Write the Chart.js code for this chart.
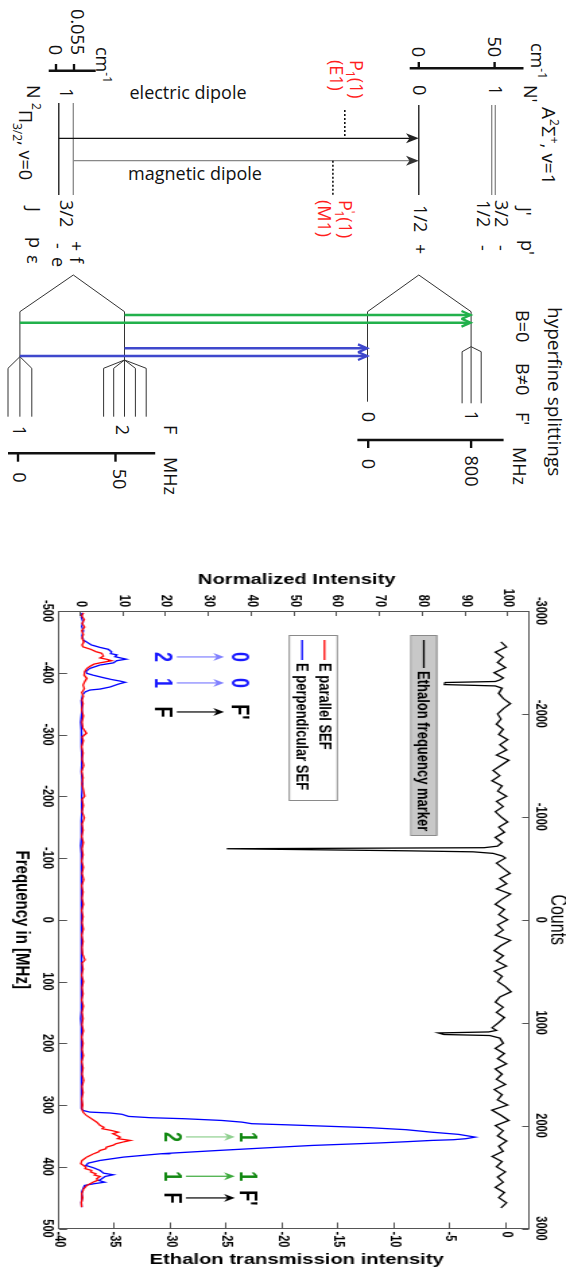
<!DOCTYPE html>
<html lang="en">
<head>
<meta charset="UTF-8">
<meta name="viewport" content="width=566, initial-scale=1.0">
<title>SEF hyperfine spectrum</title>
<script src="https://cdn.jsdelivr.net/npm/chart.js"></script>
<style>
  html, body { margin: 0; padding: 0; background: #fff; overflow: hidden; }
  /* the whole figure is laid out landscape and turned a quarter clockwise */
  #page { position: absolute; left: 0; top: 0; width: 1272px; height: 566px;
          transform-origin: 0 0; transform: translate(566px, 0) rotate(90deg); }
  #diagram { position: absolute; left: 0; top: 0; }
  /* the spectrum panel was stretched across its height in the original figure */
  #chartBox { position: absolute; left: 540px; top: 0; width: 732px; height: 420px;
              transform-origin: 0 0; transform: scale(1, 1.3476); }
</style>
</head>
<body>
<div id="page">
  <svg id="diagram" width="540" height="566" viewBox="0 0 540 566">
    <g font-family="'Open Sans', sans-serif" font-size="18" fill="#111">
      <!-- upper state -->
      <text x="107" y="24.5" font-size="19">A<tspan font-size="12" dy="-8">2</tspan><tspan dy="8">Σ</tspan><tspan font-size="12" dy="-8">+</tspan><tspan dy="8">, v=1</tspan></text>
      <text x="43" y="35">cm<tspan font-size="12" dy="-7">-1</tspan></text>
      <text x="85" y="42.5">N'</text>
      <text x="57" y="77.8" text-anchor="end">50</text>
      <text x="57" y="153.6" text-anchor="end">0</text>
      <text x="85" y="77">1</text>
      <text x="85" y="152.7">0</text>
      <text x="207" y="48">J'</text>
      <text x="240" y="45.5">p'</text>
      <text x="200" y="70.6">3/2</text><text x="245" y="70.6">-</text>
      <text x="200" y="88.6">1/2</text><text x="245" y="88.6">-</text>
      <text x="205" y="152.5">1/2</text><text x="244" y="152.5">+</text>

      <!-- lower state -->
      <text x="55" y="494.8" text-anchor="end">0.055</text>
      <text x="55" y="517" text-anchor="end">0</text>
      <text x="47" y="470.3">cm<tspan font-size="12" dy="-7">-1</tspan></text>
      <text x="85" y="539">N</text>
      <text x="88" y="506.4">1</text>
      <text x="103" y="547"><tspan font-size="12" dy="-13">2</tspan><tspan dy="13">Π</tspan><tspan font-size="12" dy="6">3/2</tspan><tspan dy="-6">, v=0</tspan></text>
      <text x="200" y="506.4">3/2</text>
      <text x="241" y="495.6">+</text><text x="257" y="495.6">f</text>
      <text x="243" y="513.7">-</text><text x="257" y="513.7">e</text>
      <text x="207" y="539">J</text>
      <text x="237" y="537">p</text><text x="255" y="539">ε</text>

      <!-- transitions -->
      <text transform="translate(99,378) rotate(-90)" text-anchor="middle">electric dipole</text>
      <text transform="translate(180,371) rotate(-90)" text-anchor="middle">magnetic dipole</text>
      <text x="60" y="216" fill="#ff1f1f">P<tspan font-size="12" dy="4">1</tspan><tspan dy="-4">(1)</tspan></text>
      <text x="60" y="236" fill="#ff1f1f">(E1)</text>
      <text x="200" y="227" fill="#ff1f1f">P<tspan font-size="12" dy="-7">'</tspan><tspan font-size="12" dx="-3" dy="11">1</tspan><tspan dy="-4">(1)</tspan></text>
      <text x="200" y="248" fill="#ff1f1f">(M1)</text>

      <!-- hyperfine part -->
      <text x="307" y="18.5" font-size="19">hyperfine splittings</text>
      <text x="310" y="50">B=0</text>
      <text x="363" y="50">B≠0</text>
      <text x="412" y="50">F'</text>
      <text x="417" y="204.2" text-anchor="middle">0</text>
      <text x="416" y="101.3" text-anchor="middle">1</text>
      <text x="464" y="204.2" text-anchor="middle">0</text>
      <text x="471" y="101.3" text-anchor="middle">800</text>
      <text x="447" y="53">MHz</text>
      <text x="425" y="401.7">F</text>
      <text x="457" y="401.7">MHz</text>
      <text x="431" y="553.4" text-anchor="middle">1</text>
      <text x="430" y="449.6" text-anchor="middle">2</text>
      <text x="477.5" y="553.4" text-anchor="middle">0</text>
      <text x="479" y="453.5" text-anchor="middle">50</text>
    </g>

    <!-- scale bars -->
    <g stroke="#111" stroke-width="2.4" fill="none">
      <line x1="68.3" y1="42.5" x2="68.3" y2="156.3"/>
      <line x1="62" y1="71.4" x2="68.3" y2="71.4"/>
      <line x1="62" y1="147.2" x2="68.3" y2="147.2"/>
      <line x1="70.7" y1="470.3" x2="70.7" y2="517.3"/>
      <line x1="64" y1="492" x2="70.7" y2="492"/>
      <line x1="64" y1="510" x2="70.7" y2="510"/>
      <line x1="440" y1="62.4" x2="440" y2="208.6"/>
      <line x1="440" y1="197.8" x2="448" y2="197.8"/>
      <line x1="440" y1="94.9" x2="448" y2="94.9"/>
      <line x1="453.3" y1="410.8" x2="453.3" y2="558"/>
      <line x1="453.3" y1="548" x2="461.7" y2="548"/>
      <line x1="453.3" y1="450.5" x2="461.7" y2="450.5"/>
    </g>

    <!-- rotational levels -->
    <g stroke-width="1.3">
      <line x1="105" y1="147.2" x2="195" y2="147.2" stroke="#111"/>
      <line x1="105" y1="74.3" x2="195" y2="74.3" stroke="#888"/>
      <line x1="105" y1="70.7" x2="195" y2="70.7" stroke="#888"/>
      <line x1="103" y1="507.2" x2="195" y2="507.2" stroke="#111"/>
      <line x1="103" y1="492.7" x2="195" y2="492.7" stroke="#888"/>
    </g>

    <!-- dipole arrows -->
    <line x1="138.3" y1="507.2" x2="138.3" y2="156" stroke="#111" stroke-width="1.2"/>
    <path d="M138.3,147.2 L133.3,160 L138.3,156.5 L143.3,160 Z" fill="#222"/>
    <line x1="160.7" y1="492.7" x2="160.7" y2="156" stroke="#888" stroke-width="1.2"/>
    <path d="M160.7,147.2 L155.7,160 L160.7,156.5 L165.7,160 Z" fill="#333"/>
    <g stroke="#111" stroke-width="1.6" stroke-dasharray="2,2">
      <line x1="110" y1="221.2" x2="138.3" y2="221.2"/>
      <line x1="160.7" y1="233.1" x2="195" y2="233.1"/>
    </g>

    <!-- hyperfine levels -->
    <g stroke="#333" stroke-width="1" fill="none">
      <polyline points="311.7,546.1 275,492.7 311.7,441.5"/>
      <line x1="311.7" y1="546.1" x2="416.7" y2="546.1"/>
      <polyline points="416.7,558 368.3,558 356.7,546.1 368.3,534.2 416.7,534.2"/>
      <line x1="311.7" y1="441.5" x2="416.7" y2="441.5"/>
      <polyline points="416.7,462.4 368.3,462.4 360,441.5 368.3,419.8 416.7,419.8"/>
      <polyline points="416.7,452.3 368.3,452.3 360,441.5 368.3,430.6 416.7,430.6"/>
      <polyline points="311.7,198.5 275,147.2 311.7,94.9"/>
      <line x1="311.7" y1="198.5" x2="401.7" y2="198.5"/>
      <line x1="311.7" y1="94.9" x2="403.3" y2="94.9"/>
      <polyline points="403.3,103.9 351.7,103.9 346.7,94.9 351.7,84.8 403.3,84.8"/>
    </g>
    <g stroke="#22b14c" stroke-width="2.4" fill="none">
      <line x1="315" y1="441.5" x2="315" y2="96"/>
      <polyline points="311,104.5 315,95.5 319,104.5"/>
      <line x1="322.7" y1="546.1" x2="322.7" y2="96"/>
      <polyline points="318.7,104.5 322.7,95.5 326.7,104.5"/>
    </g>
    <g stroke="#3f48cc" stroke-width="2.4" fill="none">
      <line x1="348.3" y1="441.5" x2="348.3" y2="199.5"/>
      <polyline points="344.3,208 348.3,199 352.3,208"/>
      <line x1="356" y1="546.1" x2="356" y2="199.5"/>
      <polyline points="352,208 356,199 360,208"/>
    </g>
  </svg>
  <div id="chartBox"><canvas id="spectrum" width="732" height="420"></canvas></div>
</div>
<script>
  // tick labels
  const freqTicks = [-500, -400, -300, -200, -100, 0, 100, 200, 300, 400, 500];
  const countTicks = [-3000, -2000, -1000, 0, 1000, 2000, 3000];
  const intensityTicks = [0, 10, 20, 30, 40, 50, 60, 70, 80, 90, 100];
  const etalonTicks = [-40, -35, -30, -25, -20, -15, -10, -5, 0];

  const seriesNames = ['E parallel SEF', 'E perpendicular SEF', 'Ethalon frequency marker'];

  // E parallel SEF (MHz, normalized intensity)
  const parFreq = [
    -497, -492, -486, -480, -474, -468, -462, -456, -450, -445,
    -442, -438, -434, -431.5, -427, -424, -421.7, -419.5, -416, -414,
    -411, -407, -402, -396, -391, -385.5, -380, -374, -368, -362,
    -356, -350, -340, -330, -320, -310, -302, -296, -290, -280,
    -270, -260, -250, -240, -230, -220, -210, -200, -195, -185,
    -175, -165, -155, -145, -135, -125, -115, -105, -95, -85,
    -75, -65, -55, -45, -35, -25, -15, -5, 5, 15,
    25, 35, 45, 55, 65, 70, 80, 90, 100, 110,
    120, 130, 140, 150, 160, 170, 180, 190, 200, 210,
    220, 230, 240, 250, 260, 270, 280, 290, 300, 306,
    311.5, 316.9, 322.2, 327.7, 333, 336, 338.4, 341, 344, 346.5,
    349, 352, 354.5, 357.4, 360.1, 362.7, 365, 368.2, 371, 373.6,
    376, 379, 384.4, 389.8, 395.1, 400.5, 403, 406, 408.5, 411.3,
    413.5, 415.7, 419.4, 422, 425, 430.3, 435.7, 443.8, 450, 458,
    465.5
  ];
  const parSignal = [
    0.6, 0.2, 0.8, 0.3, 0.9, 0.2, 0.6, 0.3, 0.7, 0.3,
    0.5, 2.3, 3.6, 4.9, 5.3, 4.5, 6.1, 7.2, 4.5, 3.1,
    2.3, 1.4, 0.9, 0.8, 1.4, 0.9, 0.5, 0.8, 0.2, 0.6,
    0.3, 0.5, 0.2, 0.6, 0.3, 0.5, 1.3, 0.3, 0.6, 0.2,
    0.5, 0.3, 0.7, 0.2, 0.5, 0.3, 0.6, 0.9, 0.3, 0.6,
    0.3, 0.8, 0.3, 0.5, 0.2, 0.6, 0.3, 0.5, 0.2, 0.6,
    0.3, 0.7, 0.2, 0.5, 0.3, 0.6, 0.2, 0.5, 0.3, 0.6,
    0.2, 0.5, 0.3, 0.4, 1.0, 0.3, 0.5, 0.2, 0.6, 0.3,
    0.5, 0.2, 0.6, 0.3, 0.5, 0.3, 0.6, 0.2, 0.5, 0.3,
    0.6, 0.2, 0.5, 0.3, 0.7, 0.3, 0.5, 0.2, 0.4, 0.3,
    0.5, 1.3, 2.5, 3.7, 4.5, 5.4, 5.0, 7.0, 8.8, 7.5,
    8.3, 9.2, 8.6, 11.6, 9.8, 8.2, 7.6, 6.0, 5.8, 4.5,
    4.1, 3.0, 1.4, 0.3, 0.0, 1.2, 1.0, 2.5, 2.3, 3.5,
    3.2, 4.5, 3.7, 3.9, 2.9, 1.4, 0.7, 0.2, 0.4, 0.1,
    0.2
  ];

  // E perpendicular SEF
  const perpFreq = [
    -497, -490, -482, -475, -468, -460, -453, -450, -445, -441,
    -438, -434, -431, -429, -426, -422, -419.5, -416, -412.5, -407,
    -402, -399, -396, -392, -389, -386.5, -384.5, -381.7, -377, -373.6,
    -372, -369, -364, -355, -340, -320, -300, -280, -260, -240,
    -220, -200, -180, -160, -140, -120, -100, -80, -60, -40,
    -20, 0, 20, 40, 60, 80, 100, 120, 140, 160,
    180, 200, 220, 240, 260, 280, 300, 305.5, 308.8, 311.5,
    313, 315, 318.5, 320.6, 322.2, 325, 327.7, 330.3, 332, 334.7,
    336.8, 340, 344, 347.6, 352, 354.6, 356.2, 357.4, 359.5, 361.4,
    365.5, 369.8, 373.6, 378, 379, 384.4, 389.8, 394.2, 397.9, 401.6,
    406, 410.4, 413, 415.7, 419.4, 422.2, 425, 428, 430.3, 435.7,
    441, 450, 458, 465.5
  ];
  const perpSignal = [
    0.3, 0.1, 0.5, 0.2, 0.6, 0.3, 0.6, 1.3, 2.5, 4.5,
    6.4, 7.2, 7.0, 8.4, 8.0, 10.6, 8.4, 7.6, 4.5, 2.1,
    1.2, 1.4, 2.9, 5.3, 7.2, 9.2, 10.4, 8.8, 6.9, 4.5,
    2.1, 1.0, 0.4, 0.1, 0.3, 0.0, 0.2, 0.1, 0.3, 0.1,
    0.4, 0.2, 0.3, 0.1, 0.2, 0.0, 0.2, 0.1, 0.2, 0.1,
    0.2, 0.1, 0.2, 0.1, 0.2, 0.1, 0.2, 0.1, 0.2, 0.0,
    0.2, 0.1, 0.2, 0.1, 0.2, 0.1, 0.2, 0.15, 0.5, 2.1,
    6.9, 9.6, 11.2, 16.3, 24.1, 32.9, 37.6, 40.0, 47.8, 58.9,
    67.6, 76.1, 82.0, 88.4, 92.2, 90.0, 87.2, 82.0, 76.0, 70.0,
    54.1, 42.3, 32.2, 21.0, 18.7, 10.0, 4.5, 1.7, 1.2, 2.9,
    4.5, 5.3, 7.6, 5.7, 4.9, 4.2, 5.6, 2.6, 0.9, 0.5,
    0.2, 0.3, 0.1, 0.2
  ];

  // etalon marker (counts, transmission intensity)
  const etalonCounts = [
    -2700, -2650, -2600, -2550, -2500, -2450, -2400, -2350, -2330, -2315,
    -2305, -2285, -2272, -2250, -2200, -2150, -2100, -2050, -2000, -1950,
    -1900, -1850, -1800, -1750, -1700, -1650, -1600, -1550, -1500, -1450,
    -1400, -1350, -1300, -1250, -1200, -1150, -1100, -1050, -1000, -950,
    -900, -850, -800, -750, -715, -700, -690, -680, -670, -660,
    -645, -620, -600, -550, -500, -450, -400, -350, -300, -250,
    -200, -150, -100, -50, 0, 50, 100, 150, 200, 250,
    300, 350, 400, 450, 500, 550, 600, 650, 700, 750,
    800, 850, 900, 950, 1000, 1050, 1075, 1090, 1100, 1115,
    1125, 1150, 1200, 1250, 1300, 1350, 1400, 1450, 1500, 1550,
    1600, 1650, 1700, 1750, 1800, 1850, 1900, 1950, 2000, 2050,
    2100, 2150, 2200, 2250, 2300, 2350, 2400, 2450, 2500, 2550,
    2600, 2650, 2700, 2750, 2800
  ];
  const etalonSignal = [
    -0.5, 0.0, -1.0, -0.3, -0.8, -0.1, -1.1, -0.3, -0.6, -1.0,
    -5.5, -5.55, -1.0, -0.4, -0.7, -0.3, 0.35, -0.3, -0.8, -0.5,
    -0.9, -0.3, -0.7, 0.1, -0.6, 0.0, -0.9, 0.2, -0.5, -1.2,
    -0.6, -1.3, -0.4, -0.8, 0.0, -0.9, -0.3, -1.0, -0.5, 0.1,
    -0.7, -0.2, -1.0, -0.4, -0.8, -2.0, -25.0, -17.0, -9.0, -3.0,
    -1.2, -0.4, -0.1, -0.9, -0.3, 0.3, -0.6, 0.0, -0.9, 0.35,
    -0.4, -1.0, -0.2, -0.7, 0.1, -0.8, -0.3, -1.0, 0.35, -0.5,
    -1.1, -0.3, -0.9, 0.0, -1.1, -0.4, -0.8, -0.1, 0.4, -0.6,
    -1.0, -0.3, -0.9, -0.2, -0.7, -1.3, -0.9, -1.6, -6.1, -5.6,
    -1.5, -0.6, -0.3, -1.0, -0.2, -0.8, 0.0, -1.0, -0.4, -0.9,
    -0.1, -1.1, -0.4, -0.8, 0.1, -1.3, -0.5, 0.2, -1.0, -0.3,
    -0.8, 0.0, -0.7, -0.3, -1.3, -0.4, -0.9, -0.1, -0.8, -0.3,
    -1.0, -0.2, -0.7, 0.0, -0.5
  ];

  // hyperfine components marked in the spectrum (F -> F')
  const transFreq = [-425.6, -383.5, -336.5, 351.7, 415.4, 450.5];
  const transLower = ['2', '1', 'F', '2', '1', 'F'];
  const transUpper = ['0', '0', "F'", '1', '1', "F'"];

  function pairs(xs, ys) {
    return xs.map((v, i) => ({ x: v, y: ys[i] }));
  }

  const FONT = '"Liberation Sans", Arial, sans-serif';
  const tickFont = { family: FONT, size: 11, weight: 'bold' };
  const noGrid = { display: false, drawTicks: false };
  const frame = { display: true, color: '#555', width: 1 };

  function fixedTicks(list) {
    return scale => { scale.ticks = list.map(v => ({ value: v })); };
  }

  // frame ticks, axis titles, legends and transition labels
  const decor = {
    id: 'decor',
    afterDraw(chart) {
      const ctx = chart.ctx;
      const A = chart.chartArea;
      const { x, x2, y, y2 } = chart.scales;
      ctx.save();

      // inward tick marks
      ctx.strokeStyle = '#555';
      ctx.lineWidth = 1;
      ctx.beginPath();
      x.ticks.forEach(t => { const p = Math.round(x.getPixelForValue(t.value)) + 0.5; ctx.moveTo(p, A.bottom); ctx.lineTo(p, A.bottom - 6); });
      x2.ticks.forEach(t => { const p = Math.round(x2.getPixelForValue(t.value)) + 0.5; ctx.moveTo(p, A.top); ctx.lineTo(p, A.top + 5); });
      y.ticks.forEach(t => { const p = Math.round(y.getPixelForValue(t.value)) + 0.5; ctx.moveTo(A.left, p); ctx.lineTo(A.left + 5, p); });
      y2.ticks.forEach(t => { const p = Math.round(y2.getPixelForValue(t.value)) + 0.5; ctx.moveTo(A.right, p); ctx.lineTo(A.right - 6, p); });
      ctx.stroke();

      // axis titles
      ctx.fillStyle = '#000';
      ctx.textAlign = 'center';
      ctx.textBaseline = 'middle';
      ctx.font = 'bold 15px ' + FONT;
      ctx.fillText('Frequency in [MHz]', (A.left + A.right) / 2, A.bottom + 28);
      const midY = (A.top + A.bottom) / 2 - 2;
      [['Normalized Intensity', A.left - 31], ['Ethalon transmission intensity', A.right + 31.5]].forEach(([txt, px]) => {
        ctx.save();
        ctx.translate(px, midY);
        ctx.rotate(-Math.PI / 2);
        ctx.fillText(txt, 0, 0);
        ctx.restore();
      });
      ctx.font = '16px ' + FONT;
      ctx.fillText('Counts', (A.left + A.right) / 2, A.top - 20.5);

      // legends
      const lx = A.left + 24;
      ctx.fillStyle = '#c8c8c8';
      ctx.fillRect(lx, 95.4, 200, 19.2);
      ctx.strokeStyle = '#8a8a8a';
      ctx.strokeRect(lx + 0.5, 95.9, 200, 19.2);
      ctx.fillStyle = '#fff';
      ctx.fillRect(lx, 169.2, 165, 35.6);
      ctx.strokeRect(lx + 0.5, 169.7, 165, 35.6);

      const ds = chart.data.datasets;
      const rows = [[ds[2], 105.5], [ds[0], 179.2], [ds[1], 195.8]];
      ctx.font = 'bold 13px ' + FONT;
      ctx.textAlign = 'left';
      rows.forEach(([d, ry], i) => {
        const x0 = lx + 5, x1 = i === 0 ? lx + 33 : lx + 25;
        ctx.strokeStyle = d.borderColor;
        ctx.lineWidth = 1.3;
        ctx.beginPath(); ctx.moveTo(x0, ry); ctx.lineTo(x1, ry); ctx.stroke();
        ctx.fillStyle = '#000';
        ctx.fillText(d.label, x1 + 3, ry + 0.5);
      });

      // F -> F' labels
      ctx.font = 'bold 18px ' + FONT;
      ctx.textAlign = 'center';
      ctx.textBaseline = 'alphabetic';
      transFreq.forEach((f, i) => {
        const right = f > 0;
        const lowV = right ? 21.5 : 19.4, upV = right ? 39.3 : 37.2;
        const a0 = right ? 24.6 : 22.5, a1 = right ? 36 : 33.5;
        const row = i % 3;
        const txtColor = row === 2 ? '#000' : (right ? '#118811' : '#1a1aff');
        const arrColor = row === 2 ? '#000' : (right ? (row === 0 ? '#8fd08f' : '#3daa3d') : '#8080ff');
        const px = x.getPixelForValue(f);
        ctx.fillStyle = txtColor;
        ctx.fillText(transLower[i], px, y.getPixelForValue(lowV) + 6.4);
        ctx.fillText(transUpper[i], px, y.getPixelForValue(upV) + 6.4);
        const ya = y.getPixelForValue(a0), yb = y.getPixelForValue(a1);
        ctx.strokeStyle = arrColor;
        ctx.lineWidth = 1.2;
        ctx.beginPath(); ctx.moveTo(px, ya); ctx.lineTo(px, yb + 5); ctx.stroke();
        ctx.fillStyle = arrColor;
        ctx.beginPath();
        ctx.moveTo(px, yb); ctx.lineTo(px - 4, yb + 8); ctx.lineTo(px, yb + 5.5); ctx.lineTo(px + 4, yb + 8);
        ctx.closePath(); ctx.fill();
      });
      ctx.restore();
    }
  };

  new Chart(document.getElementById('spectrum'), {
    type: 'line',
    data: {
      datasets: [
        { label: seriesNames[0], data: pairs(parFreq, parSignal), xAxisID: 'x', yAxisID: 'y',
          borderColor: '#ff0000', borderWidth: 1.3, pointRadius: 0, tension: 0 },
        { label: seriesNames[1], data: pairs(perpFreq, perpSignal), xAxisID: 'x', yAxisID: 'y',
          borderColor: '#0000ff', borderWidth: 1.3, pointRadius: 0, tension: 0 },
        { label: seriesNames[2], data: pairs(etalonCounts, etalonSignal), xAxisID: 'x2', yAxisID: 'y2',
          borderColor: '#000000', borderWidth: 1.3, pointRadius: 0, tension: 0 }
      ]
    },
    options: {
      responsive: false,
      animation: false,
      events: [],
      layout: { padding: 0 },
      plugins: { legend: { display: false }, tooltip: { enabled: false } },
      scales: {
        x: {
          type: 'linear', position: 'bottom', min: -500, max: 500,
          afterBuildTicks: fixedTicks(freqTicks),
          afterFit: s => { s.height = 43.8; },
          ticks: { font: tickFont, color: '#000', padding: 2, maxRotation: 0, autoSkip: false, callback: v => String(v) },
          grid: noGrid, border: frame
        },
        x2: {
          type: 'linear', position: 'top', min: -3000, max: 3000,
          afterBuildTicks: fixedTicks(countTicks),
          afterFit: s => { s.height = 27.5; },
          ticks: { font: tickFont, color: '#000', padding: 2, maxRotation: 0, autoSkip: false, callback: v => String(v) },
          grid: noGrid, border: frame
        },
        y: {
          type: 'linear', position: 'left', min: -5.1, max: 104.8,
          afterBuildTicks: fixedTicks(intensityTicks),
          afterFit: s => { s.width = 71; },
          ticks: { font: tickFont, color: '#000', padding: 4, autoSkip: false, callback: v => String(v) },
          grid: noGrid, border: frame
        },
        y2: {
          type: 'linear', position: 'right', min: -40, max: 2,
          afterBuildTicks: fixedTicks(etalonTicks),
          afterFit: s => { s.width = 43.5; },
          ticks: { font: tickFont, color: '#000', padding: 3, autoSkip: false, callback: v => String(v) },
          grid: noGrid, border: frame
        }
      }
    },
    plugins: [decor]
  });
</script>
</body>
</html>
